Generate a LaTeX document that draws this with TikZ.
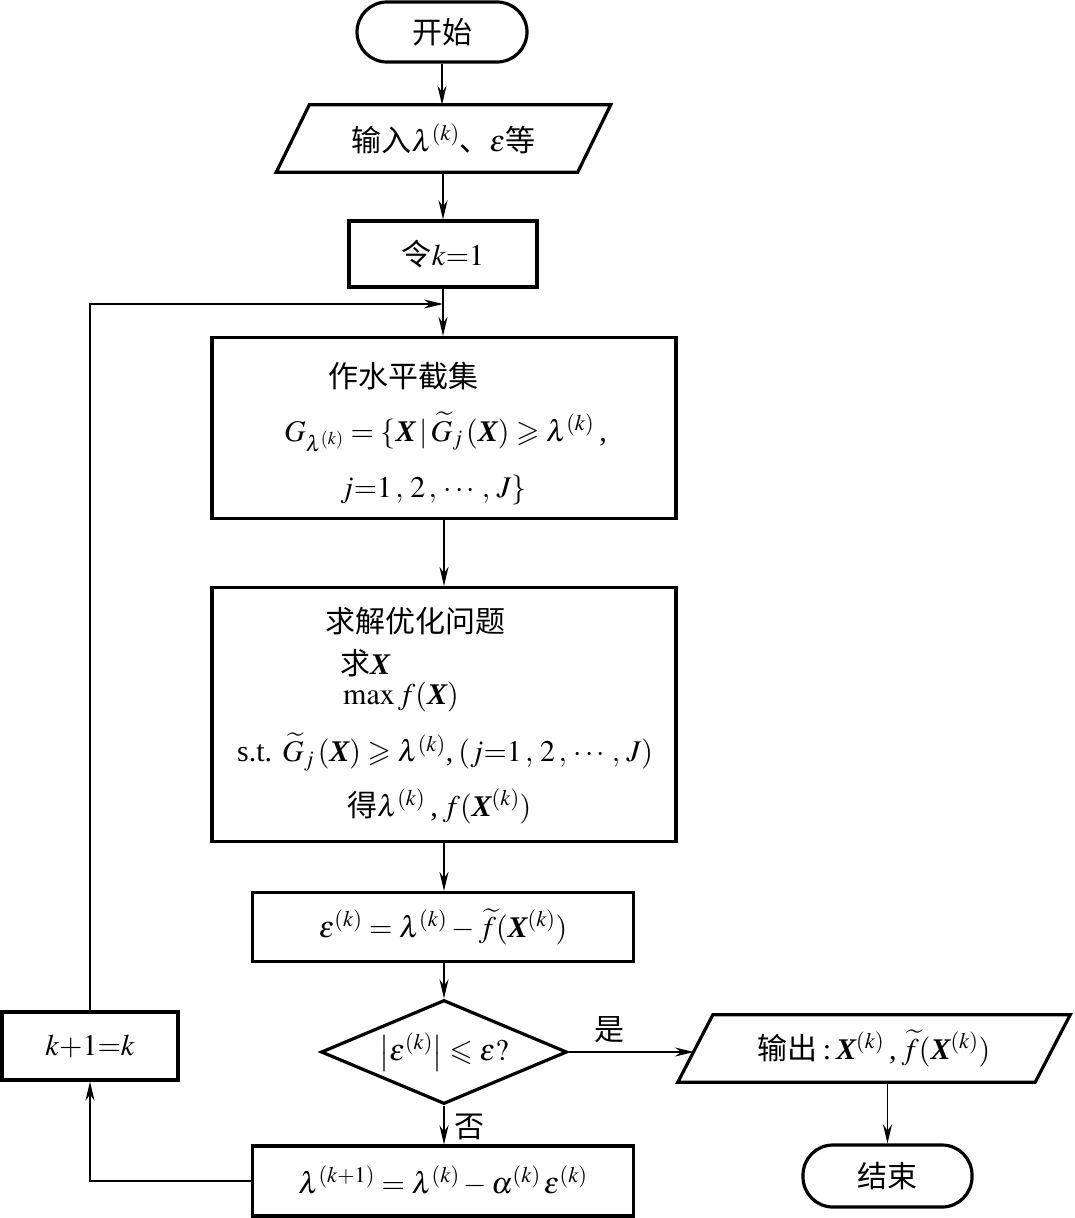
\documentclass[tikz,border=0pt]{standalone}
\usepackage{amsmath,amssymb}
\usepackage{mathptmx}
\usepackage[no-math]{fontspec}
\setmainfont{Liberation Serif}
\newfontfamily\cjk{Noto Sans CJK SC}
\usetikzlibrary{shapes.geometric,arrows.meta}
\newcommand{\BX}{\text{\bfseries\itshape X}}
\begin{document}
\begin{tikzpicture}[x=1pt,y=-1pt,
  base/.style={font=\fontsize{30}{36}\selectfont, inner sep=0pt},
  proc/.style={base, draw, line width=3.2pt},
  term/.style={proc, rounded corners=30pt},
  conn/.style={line width=1.9pt, -{Stealth[length=19pt,width=9pt]}},
  outline/.style={line width=3.2pt, line join=miter}]
\fill[white] (0,0) rectangle (1074,1218);
\useasboundingbox (0,0) rectangle (1074,1218);

% start
\node[term, minimum width=170, minimum height=60] (start) at (442,32) {\cjk 开始};
% input
\node[base, minimum width=334, minimum height=67] (inp) at (443.5,138.5) {\cjk 输入$\lambda^{(k)}$、$\varepsilon$等};
\draw[outline] ([xshift=33]inp.north west) -- (inp.north east) -- ([xshift=-33]inp.south east) -- (inp.south west) -- cycle;
% k=1
\node[proc, minimum width=188, minimum height=66] (k1) at (443,254) {{\cjk 令}$k{=}1$};
% cut set box
\node[proc, minimum width=464, minimum height=181] (cut) at (444,428) {};
\node[base, anchor=west] (c1) at (328,376) {\cjk 作水平截集};
\node[base, anchor=west] (c2) at (284,432) {$G_{\lambda^{(k)}}=\{\BX\,|\,\widetilde{G}_j\,(\BX)\geqslant\lambda^{(k)}$\,,};
\node[base, anchor=west] (c3) at (340,490) {$j{=}1\,,\,2\,,\,\cdots,\,J\}$};
% optimisation box
\node[proc, minimum width=464, minimum height=254] (opt) at (444,714.5) {};
\node[base, anchor=west] (o1) at (325,621) {\cjk 求解优化问题};
\node[base, anchor=west] (o2) at (340,663) {{\cjk 求}$\BX$};
\node[base, anchor=west] (o3) at (343,697) {$\max f(\BX)$};
\node[base, anchor=west] (o4) at (237,752) {s.t. $\widetilde{G}_j\,(\BX)\geqslant\lambda^{(k)}$,\,$(j{=}1\,,\,2\,,\,\cdots,\,J)$};
\node[base, anchor=west] (o5) at (347,806) {{\cjk 得}$\lambda^{(k)}$\,,\,$f(\BX^{(k)})$};
% error box
\node[proc, minimum width=381, minimum height=69] (err) at (443,927) {$\varepsilon^{(k)}=\lambda^{(k)}-\widetilde{f}(\BX^{(k)})$};
% decision
\node[base, draw, line width=3.2pt, shape=diamond, minimum width=246, minimum height=104] (dec) at (444,1052) {};
\node[base] (dect) at (444,1052) {$\bigl|\varepsilon^{(k)}\bigr|\leqslant\varepsilon?$};
% output
\node[base, minimum width=392, minimum height=67] (out) at (874,1048.5) {{\cjk 输出}\,:\,$\BX^{(k)}$\,,\,$\widetilde{f}(\BX^{(k)})$};
\draw[outline] ([xshift=35]out.north west) -- (out.north east) -- ([xshift=-35]out.south east) -- (out.south west) -- cycle;
\coordinate (outL) at (694,1052);
% end
\node[term, minimum width=169, minimum height=62] (end) at (887.5,1176) {\cjk 结束};
% k+1=k
\node[proc, minimum width=176, minimum height=68] (inc) at (90,1046) {$k{+}1{=}k$};
% update
\node[proc, minimum width=381, minimum height=70] (upd) at (443,1181) {$\lambda^{(k+1)}=\lambda^{(k)}-\alpha^{(k)}\,\varepsilon^{(k)}$};

\coordinate (merge) at (443,304);

% connectors
\draw[conn] (start.south) -- (inp.north -| start.south);
\draw[conn] (inp.south -| k1.north) -- (k1.north);
\draw[conn] (k1.south) -- (cut.north -| k1.south);
\draw[conn] (inc.north) |- (merge);
\draw[conn] (cut.south) -- (opt.north);
\draw[conn] (opt.south) -- (err.north -| opt.south);
\draw[conn] (err.south -| dec.north) -- (dec.north);
\draw[conn] (dec.east) -- (outL) node[base, pos=0.33, above=8pt] (yes) {\cjk 是};
\draw[conn] (dec.south) -- (upd.north -| dec.south) node[base, pos=0.55, right=10pt] (no) {\cjk 否};
\draw[conn] (upd.west) -| (inc.south);
\draw[conn] (end.north |- out.south) -- (end.north);
\end{tikzpicture}
\end{document}
